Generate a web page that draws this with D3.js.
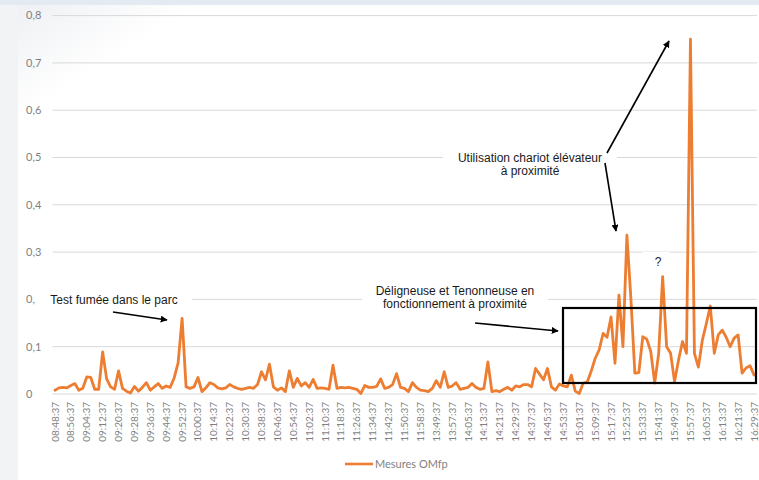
<!DOCTYPE html>
<html>
<head>
<meta charset="utf-8">
<script src="https://cdn.jsdelivr.net/npm/d3@7"></script>
<style>
html,body{margin:0;padding:0;background:#f4f5f7;}
svg{display:block;}
</style>
</head>
<body>
<svg id="chart" width="759" height="480"></svg>
<script>
// ---- data ----
const tickLabels = ["08:48:37","08:56:37","09:04:37","09:12:37","09:20:37","09:28:37","09:36:37","09:44:37","09:52:37","10:00:37","10:14:37","10:22:37","10:30:37","10:38:37","10:46:37","10:54:37","11:02:37","11:10:37","11:18:37","11:26:37","11:34:37","11:42:37","11:50:37","11:58:37","13:49:37","13:57:37","14:05:37","14:13:37","14:21:37","14:29:37","14:37:37","14:45:37","14:53:37","15:01:37","15:09:37","15:17:37","15:25:37","15:33:37","15:41:37","15:49:37","15:57:37","16:05:37","16:13:37","16:21:37","16:29:37"];
const pointsPerTick = 4;
const seriesName = "Mesures OMfp";
const values = [
0.008,0.013,0.014,0.013,0.018,0.022,0.008,0.012,0.036,0.035,
0.010,0.010,0.089,0.032,0.015,0.010,0.049,0.012,0.006,0.002,
0.016,0.006,0.014,0.024,0.008,0.015,0.022,0.012,0.017,0.014,
0.034,0.066,0.160,0.015,0.012,0.015,0.035,0.005,0.013,0.024,
0.020,0.013,0.011,0.013,0.020,0.015,0.012,0.010,0.012,0.014,
0.012,0.020,0.047,0.030,0.063,0.015,0.008,0.013,0.005,0.049,
0.014,0.033,0.017,0.024,0.014,0.031,0.012,0.013,0.012,0.010,
0.061,0.012,0.014,0.013,0.014,0.012,0.010,0.001,0.018,0.014,
0.014,0.016,0.032,0.012,0.014,0.020,0.043,0.014,0.012,0.005,
0.024,0.014,0.008,0.007,0.005,0.012,0.028,0.014,0.047,0.014,
0.017,0.024,0.010,0.012,0.014,0.022,0.014,0.010,0.012,0.068,
0.005,0.007,0.005,0.010,0.014,0.008,0.017,0.015,0.020,0.020,
0.015,0.054,0.042,0.030,0.054,0.015,0.008,0.021,0.017,0.015,
0.040,0.006,0.001,0.023,0.025,0.048,0.075,0.093,0.128,0.120,
0.163,0.065,0.209,0.100,0.336,0.202,0.044,0.045,0.121,0.116,
0.090,0.023,0.086,0.248,0.100,0.086,0.026,0.072,0.111,0.086,
0.750,0.086,0.057,0.114,0.149,0.186,0.086,0.125,0.135,0.120,
0.100,0.118,0.125,0.044,0.055,0.060,0.040
];
const yTickValues = [0,0.1,0.2,0.3,0.4,0.5,0.6,0.7,0.8];
const annotations = [
  {lines:["Test fumée dans le parc"], x:114, y:304, box:[35,291,157,19]},
  {lines:["Déligneuse et Tenonneuse en","fonctionnement à proximité"], x:455, y:295, box:[362,281,186,31]},
  {lines:["Utilisation chariot élévateur","à proximité"], x:530, y:162, box:[443,148,174,30]},
  {lines:["?"], x:658, y:266, box:[642,252,28,18]}
];
const arrows = [
  [113,312,167,320],
  [475,323,558,331],
  [607,153,669,41],
  [605,163,616,231]
];
const highlightBox = [563,308,193,75];

// ---- drawing ----
const svg = d3.select("#chart");
const fontUI = "Lato, 'Open Sans', sans-serif";
const fontAnn = "'Liberation Sans', Arial, sans-serif";

const defs = svg.append("defs");
const bg = defs.append("linearGradient").attr("id","bgGrad").attr("x1","0").attr("y1","0").attr("x2","1").attr("y2","1");
bg.append("stop").attr("offset","0").attr("stop-color","#eef0f3");
bg.append("stop").attr("offset","0.12").attr("stop-color","#ffffff");
bg.append("stop").attr("offset","1").attr("stop-color","#ffffff");
defs.append("marker").attr("id","arrow").attr("viewBox","0 0 10 10").attr("refX",9).attr("refY",5)
  .attr("markerWidth",7).attr("markerHeight",7).attr("markerUnits","userSpaceOnUse").attr("orient","auto")
  .append("path").attr("d","M0,0 L10,5 L0,10 z").attr("fill","#000");

svg.append("rect").attr("x",0).attr("y",0).attr("width",759).attr("height",480).attr("fill","#f2f3f5");
svg.append("rect").attr("x",0).attr("y",0).attr("width",759).attr("height",5).attr("fill","#e3eaf2");
svg.append("rect").attr("x",18).attr("y",5).attr("width",741).attr("height",475).attr("fill","url(#bgGrad)");

const x = d3.scaleLinear().domain([0, values.length-1]).range([55, 754]);
const y = d3.scaleLinear().domain([0, 0.8]).range([394, 15.6]);

// gridlines
svg.append("g").selectAll("line").data(yTickValues).join("line")
  .attr("x1",52.5).attr("x2",757).attr("y1",d=>y(d)).attr("y2",d=>y(d))
  .attr("stroke","#d9d9d9").attr("stroke-width",1);

// y labels
const fmt = d => d===0 ? "0" : d3.format(".1f")(d).replace(".",",");
svg.append("g").selectAll("text").data(yTickValues).join("text")
  .attr("x",26).attr("y",d=>y(d)).attr("dy","0.35em")
  .attr("font-family",fontUI).attr("font-size",11).attr("fill","#7f7f7f")
  .text(fmt);

// x labels
svg.append("g").selectAll("text").data(tickLabels).join("text")
  .attr("transform",(d,i)=>`translate(${x(i*pointsPerTick)},402) rotate(-90)`)
  .attr("text-anchor","end").attr("dy","0.35em")
  .attr("font-family",fontUI).attr("font-size",10).attr("fill","#7f7f7f")
  .text(d=>d);

// annotation boxes (white, hiding gridlines)
svg.append("g").selectAll("rect").data(annotations).join("rect")
  .attr("x",d=>d.box[0]).attr("y",d=>d.box[1]).attr("width",d=>d.box[2]).attr("height",d=>d.box[3])
  .attr("fill","#ffffff");

// series line
const line = d3.line().x((d,i)=>x(i)).y(d=>y(d));
svg.append("path").datum(values).attr("d",line)
  .attr("fill","none").attr("stroke","#ED7D31").attr("stroke-width",2.8)
  .attr("stroke-linejoin","round").attr("stroke-linecap","round");

// annotation texts
annotations.forEach(a=>{
  const t = svg.append("text").attr("text-anchor","middle")
    .attr("font-family",fontAnn).attr("font-size",12).attr("fill","#1a1a1a");
  a.lines.forEach((l,k)=>{
    t.append("tspan").attr("x",a.x).attr("y",a.y + k*13).text(l);
  });
});

// arrows
svg.append("g").selectAll("line").data(arrows).join("line")
  .attr("x1",d=>d[0]).attr("y1",d=>d[1]).attr("x2",d=>d[2]).attr("y2",d=>d[3])
  .attr("stroke","#000").attr("stroke-width",1.6).attr("marker-end","url(#arrow)");

// highlight rectangle
svg.append("rect").attr("x",highlightBox[0]).attr("y",highlightBox[1])
  .attr("width",highlightBox[2]).attr("height",highlightBox[3])
  .attr("fill","none").attr("stroke","#000").attr("stroke-width",2.2);

// legend
const lg = svg.append("g").attr("transform","translate(345,464)");
lg.append("line").attr("x1",0).attr("x2",28).attr("y1",0).attr("y2",0)
  .attr("stroke","#ED7D31").attr("stroke-width",2.6);
lg.append("text").attr("x",30).attr("y",0).attr("dy","0.35em")
  .attr("font-family",fontUI).attr("font-size",11).attr("fill","#7f7f7f").text(seriesName);
</script>
</body>
</html>
